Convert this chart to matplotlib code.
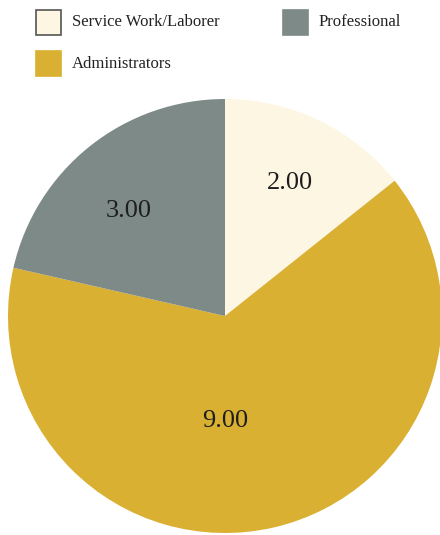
import matplotlib.pyplot as plt
from matplotlib.patches import Rectangle

# data
categories = ['Service Work/Laborer', 'Administrators', 'Professional']
values = [2, 9, 3]
colors = ['#fdf6e2', '#d9b031', '#7e8a87']

# where the value labels sit (fraction of the radius, x/y from centre)
label_pos = [(0.30, 0.613), (0.0, -0.484), (-0.445, 0.484)]

# legend layout (figure pixels, top-left of the box)
legend_xy = [(36, 10), (36, 51), (283, 10)]

W, H = 440, 535
cx, cy, R = 225, 316, 217

plt.rcParams['font.family'] = ['Liberation Serif', 'DejaVu Serif']

fig = plt.figure(figsize=(W / 100, H / 100), dpi=100)
ax = fig.add_axes([0, 0, 1, 1])

wedges, _ = ax.pie(values, colors=colors, startangle=90, counterclock=False,
                   radius=1.0, center=(0, 0), frame=True,
                   wedgeprops=dict(linewidth=0))
ax.set_xlim(-cx / R, (W - cx) / R)
ax.set_ylim((cy - H) / R, cy / R)
ax.set_aspect('auto')
ax.axis('off')

for v, (px, py) in zip(values, label_pos):
    ax.text(px, py, f'{v:.2f}', ha='center', va='center',
            fontsize=19, color='#1e1e1e')

# legend drawn by hand in pixel space
box = 25
for name, col, (lx, ly) in zip(categories, colors, legend_xy):
    edge = '#555555' if name == 'Service Work/Laborer' else col
    fig.patches.append(Rectangle((lx / W, 1 - (ly + box) / H), box / W, box / H,
                                 transform=fig.transFigure, facecolor=col,
                                 edgecolor=edge, linewidth=1.2))
    fig.text((lx + box + 11) / W, 1 - (ly + box / 2) / H, name,
             ha='left', va='center', fontsize=12, color='#222222')

fig.savefig('out.png', dpi=100)
